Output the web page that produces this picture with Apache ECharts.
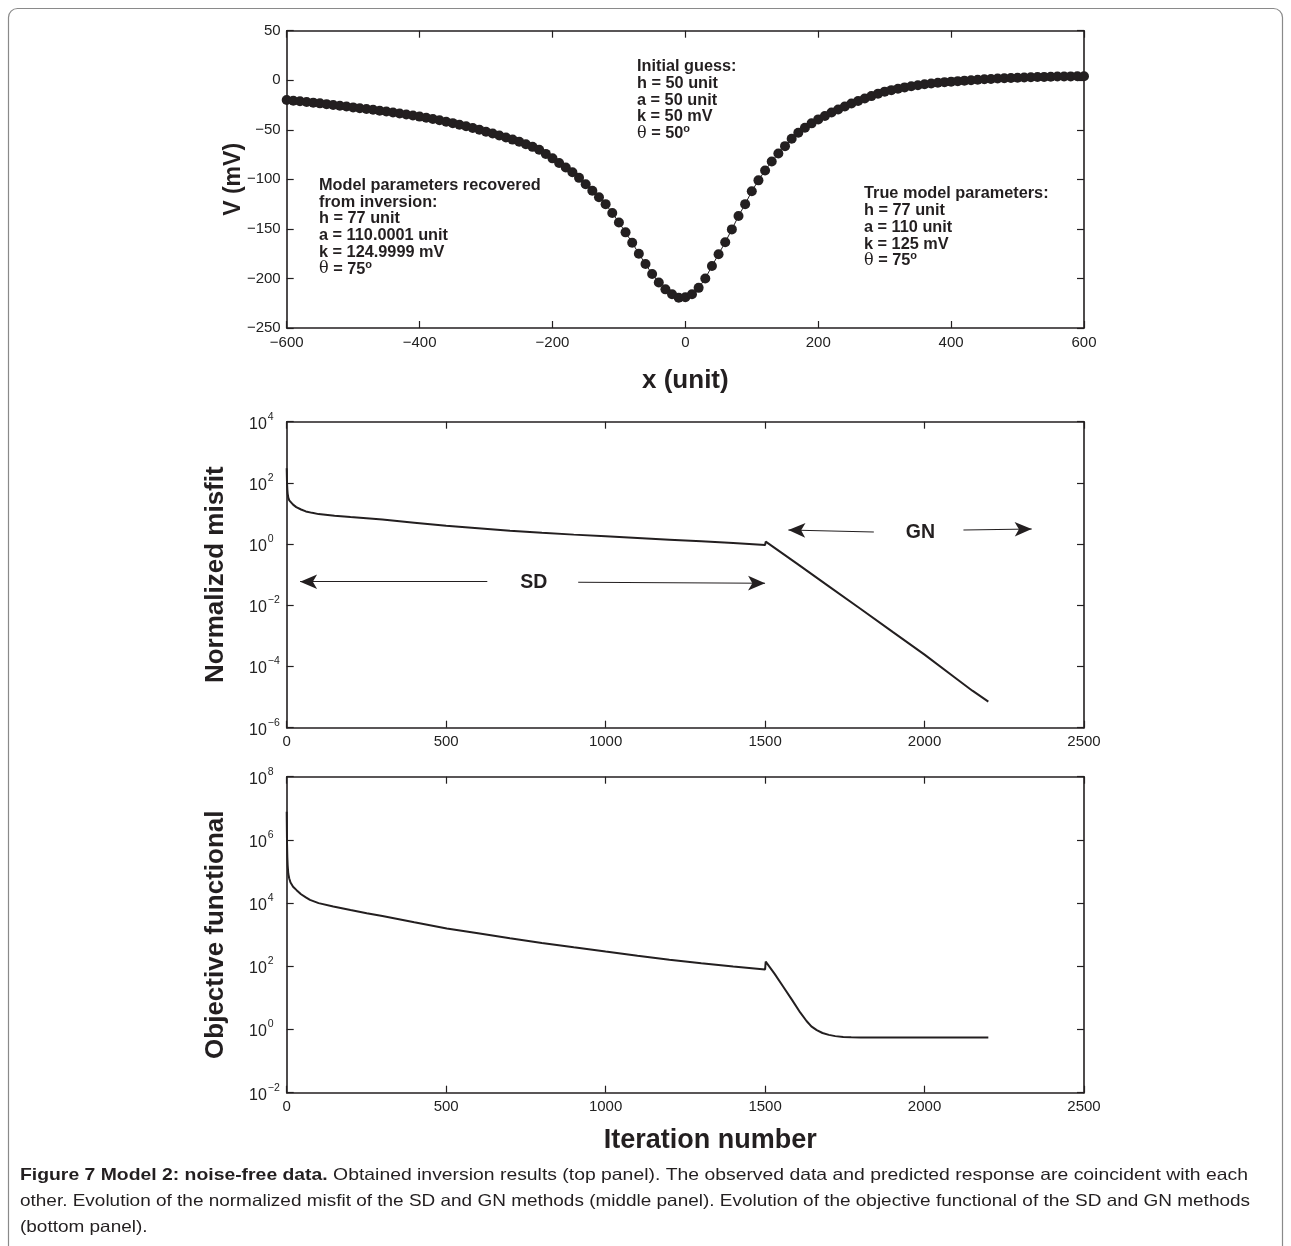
<!DOCTYPE html>
<html>
<head>
<meta charset="utf-8">
<script src="https://cdn.jsdelivr.net/npm/echarts@6/dist/echarts.min.js"></script>
<style>
html,body{margin:0;padding:0;background:#fff;}
#chart{width:1291px;height:1246px;}
</style>
</head>
<body>
<div id="chart"></div>
<script>
// ---------- DATA ----------
// Top panel: station positions (unit) and SP anomaly (mV)
const xStations = [-600,-590,-580,-570,-560,-550,-540,-530,-520,-510,-500,-490,-480,-470,-460,-450,-440,-430,-420,-410,
  -400,-390,-380,-370,-360,-350,-340,-330,-320,-310,-300,-290,-280,-270,-260,-250,-240,-230,-220,-210,
  -200,-190,-180,-170,-160,-150,-140,-130,-120,-110,-100,-90,-80,-70,-60,-50,-40,-30,-20,-10,
  0,10,20,30,40,50,60,70,80,90,100,110,120,130,140,150,160,170,180,190,
  200,210,220,230,240,250,260,270,280,290,300,310,320,330,340,350,360,370,380,390,
  400,410,420,430,440,450,460,470,480,490,500,510,520,530,540,550,560,570,580,590,600];
const vObserved = [-20.0,-20.6,-21.2,-21.9,-22.6,-23.3,-24.1,-24.9,-25.7,-26.5,-27.4,-28.2,-29.0,-29.8,-30.7,-31.6,-32.5,-33.5,-34.5,-35.6,
  -36.7,-37.9,-39.1,-40.4,-41.8,-43.3,-44.9,-46.5,-48.2,-50.0,-51.9,-53.8,-55.8,-57.8,-59.9,-62.1,-64.5,-67.2,-70.2,-74.3,
  -78.8,-83.5,-88.0,-92.8,-98.5,-105,-111.5,-118,-125,-134,-143.5,-153.5,-164,-175,-185.5,-195.5,-204,-211,-216,-219.5,
  -219,-216,-209.5,-200,-187.5,-175.5,-163.5,-150.5,-137,-125,-112,-101,-91,-82,-74,-66.5,-59,-53,-48,-43.5,
  -39.5,-36,-32.5,-29.5,-26.5,-23.5,-21,-18.5,-16,-13.5,-11.5,-10,-8.5,-7.2,-6,-5,-4,-3.2,-2.5,-1.9,
  -1.4,-0.9,-0.4,0,0.5,1,1.3,1.7,2.0,2.3,2.6,2.8,3.0,3.2,3.4,3.6,3.7,3.8,3.9,4.0,4.1];

// Middle panel: normalized misfit vs iteration (SD up to 1500, GN afterwards)
const misfitIter  = [0, 1, 2, 3, 5, 8, 12, 20, 30, 45, 60, 80, 100, 150, 200, 250, 300, 400, 500, 600, 700, 800, 900, 1000,
  1100, 1200, 1300, 1400, 1500, 1502, 1600, 1700, 1800, 1900, 2000, 2100, 2150, 2200];
const misfitValue = [302, 100, 60.3, 44.7, 33.1, 26.9, 23.4, 19.5, 16.2, 13.5, 11.7, 10.5, 9.55, 8.51, 7.67, 7.0, 6.31, 5.01, 3.98, 3.31, 2.75, 2.34, 2.04, 1.80,
  1.585, 1.40, 1.23, 1.084, 0.933, 1.2, 0.229, 0.0417, 0.00759, 0.00135, 0.000245, 0.0000400, 0.0000162, 0.00000708];

// Bottom panel: objective functional vs iteration
const objIter  = [0, 1, 2, 3, 5, 8, 12, 20, 31, 45, 60, 73, 100, 146, 200, 251, 300, 400, 502, 600, 700, 800, 900, 1000,
  1100, 1200, 1300, 1400, 1500, 1502, 1530, 1557, 1585, 1610, 1630, 1645, 1662, 1680, 1700, 1720, 1745, 1770, 1800, 2200];
const objValue = [7.76e6, 7.94e5, 2.82e5, 1.58e5, 8.51e4, 6.03e4, 4.47e4, 3.31e4, 2.57e4, 1.91e4, 1.51e4, 1.26e4, 1.0e4, 7.76e3, 6.03e3, 4.79e3, 3.89e3, 2.48e3, 1.58e3, 1.11e3, 776, 550, 398, 292,
  216, 162, 124, 97.7, 79.4, 140, 57.5, 22.6, 8.51, 3.47, 1.86, 1.26, 0.955, 0.776, 0.676, 0.617, 0.582, 0.566, 0.56, 0.56];

// Annotation arrows in the middle panel ([iteration, misfit] pairs: tail, head)
const sdArrowLeft  = [[629, 0.059], [42, 0.059]];
const sdArrowRight = [[914, 0.0565], [1500, 0.0524]];
const gnArrowLeft  = [[1841, 2.48], [1573, 2.89]];
const gnArrowRight = [[2122, 2.89], [2336, 3.11]];
const sdLabelAt = [775, 0.057];
const gnLabelAt = [1987, 2.37];

// Tick settings
const topXTicks = {min: -600, max: 600, interval: 200};
const topYTicks = {min: -250, max: 50, interval: 50};
const iterTicks = {min: 0, max: 2500, interval: 500};
const misfitTicks = {min: 1e-6, max: 1e4, interval: 2};
const objTicks = {min: 1e-2, max: 1e8, interval: 2};

// ---------- STYLE / LAYOUT ----------
const INK = '#231f20';
const LAB = '#222';
const G = [
  {left: 286.7, top: 30.7, width: 797.3, height: 297.3},
  {left: 286.7, top: 421.7, width: 797.3, height: 306},
  {left: 286.7, top: 776.7, width: 797.3, height: 316}
];
const minus = v => String(v).replace('-', '\u2212');
const plain = v => String(v);
const logFmt = v => { const e = Math.round(Math.log10(v)); return '{b|10}{e|' + (e < 0 ? '\u2212' + (-e) : e) + '}'; };
const logRich = {
  b: {fontSize: 16, fontFamily: 'Liberation Sans', color: LAB, lineHeight: 21, verticalAlign: 'bottom'},
  e: {fontSize: 10.5, fontFamily: 'Liberation Sans', color: LAB, lineHeight: 21, verticalAlign: 'top', padding: [0, 0, 0, 1]}
};
function baseAxis(extra) {
  return Object.assign({
    axisLine: {show: true, onZero: false, lineStyle: {color: INK, width: 1.6}},
    axisTick: {show: true, inside: true, length: 7, lineStyle: {color: INK, width: 1.2}},
    splitLine: {show: false},
    axisLabel: {show: false},
    nameMoveOverlap: false
  }, extra);
}
const nameStyle = {color: INK, fontFamily: 'Liberation Sans', fontWeight: 'bold'};
const tickLab = {show: true, margin: 7, color: LAB, fontSize: 15, fontFamily: 'Liberation Sans'};

const xAxes = [
  baseAxis(Object.assign({type: 'value', gridIndex: 0, position: 'bottom',
    axisLabel: Object.assign({formatter: minus}, tickLab),
    name: 'x (unit)', nameLocation: 'middle', nameGap: 40, nameTextStyle: Object.assign({fontSize: 26}, nameStyle)}, topXTicks)),
  baseAxis(Object.assign({type: 'value', gridIndex: 0, position: 'top'}, topXTicks)),
  baseAxis(Object.assign({type: 'value', gridIndex: 1, position: 'bottom',
    axisLabel: Object.assign({formatter: plain}, tickLab)}, iterTicks)),
  baseAxis(Object.assign({type: 'value', gridIndex: 1, position: 'top'}, iterTicks)),
  baseAxis(Object.assign({type: 'value', gridIndex: 2, position: 'bottom',
    axisLabel: Object.assign({formatter: plain}, tickLab),
    name: 'Iteration number', nameLocation: 'middle', nameGap: 34,
    nameTextStyle: Object.assign({fontSize: 27, padding: [0, 0, 0, 50]}, nameStyle)}, iterTicks)),
  baseAxis(Object.assign({type: 'value', gridIndex: 2, position: 'top'}, iterTicks))
];
const yAxes = [
  baseAxis(Object.assign({type: 'value', gridIndex: 0, position: 'left',
    axisLabel: Object.assign({formatter: minus}, tickLab, {margin: 6}),
    name: 'V (mV)', nameLocation: 'middle', nameRotate: 90, nameGap: 42, nameTextStyle: Object.assign({fontSize: 23}, nameStyle)}, topYTicks)),
  baseAxis(Object.assign({type: 'value', gridIndex: 0, position: 'right'}, topYTicks)),
  baseAxis(Object.assign({type: 'log', logBase: 10, gridIndex: 1, position: 'left',
    axisLabel: {show: true, margin: 37.7, align: 'left', formatter: logFmt, rich: logRich},
    name: 'Normalized misfit', nameLocation: 'middle', nameRotate: 90, nameGap: 58, nameTextStyle: Object.assign({fontSize: 26}, nameStyle)}, misfitTicks)),
  baseAxis(Object.assign({type: 'log', logBase: 10, gridIndex: 1, position: 'right'}, misfitTicks)),
  baseAxis(Object.assign({type: 'log', logBase: 10, gridIndex: 2, position: 'left',
    axisLabel: {show: true, margin: 37.7, align: 'left', formatter: logFmt, rich: logRich},
    name: 'Objective functional', nameLocation: 'middle', nameRotate: 90, nameGap: 58, nameTextStyle: Object.assign({fontSize: 26}, nameStyle)}, objTicks)),
  baseAxis(Object.assign({type: 'log', logBase: 10, gridIndex: 2, position: 'right'}, objTicks))
];

const zip = (a, b) => a.map((v, i) => [v, b[i]]);
const arrowPair = p => [{coord: p[0], symbol: 'none'}, {coord: p[1], symbol: 'arrow', symbolSize: [11, 17]}];

const chart = echarts.init(document.getElementById('chart'), null, {renderer: 'canvas'});

// ---------- Caption (condensed to the reference line width) ----------
const capFamily = 'Liberation Sans';
const capSize = 16.5;
const cap1b = 'Figure 7 Model 2: noise-free data.';
const cap1r = ' Obtained inversion results (top panel). The observed data and predicted response are coincident with each';
const cap2 = 'other. Evolution of the normalized misfit of the SD and GN methods (middle panel). Evolution of the objective functional of the SD and GN methods';
const cap3 = '(bottom panel).';
const mctx = document.createElement('canvas').getContext('2d');
mctx.font = capSize + 'px "' + capFamily + '"';
const w2 = mctx.measureText(cap2).width;
mctx.font = 'bold ' + capSize + 'px "' + capFamily + '"';
const w1b = mctx.measureText(cap1b).width;
mctx.font = capSize + 'px "' + capFamily + '"';
const w1r = mctx.measureText(cap1r).width;
const sx2 = 1230 / w2;
const sx1 = 1228 / (w1b + w1r);

function txt(x, y, rich, text, extra) {
  return Object.assign({type: 'text', x: x, y: y, style: {text: text, rich: rich, fill: INK, verticalAlign: 'middle', align: 'left'}}, extra || {});
}
const annFont = 'Liberation Sans';
const annRich = {
  b: {fontSize: 16.3, fontWeight: 'bold', fontFamily: annFont, fill: INK, lineHeight: 18, verticalAlign: 'bottom'},
  t: {fontSize: 16, fontWeight: 'normal', fontFamily: 'DejaVu Serif', fill: INK, lineHeight: 18, verticalAlign: 'bottom'},
  s: {fontSize: 11, fontWeight: 'bold', fontFamily: annFont, fill: INK, lineHeight: 18, verticalAlign: 'top'}
};
function annBlock(x, y0, lines) {
  return lines.map((l, i) => txt(x, y0 + i * 16.8, annRich, l));
}
const capRich = {
  cb: {fontSize: capSize, fontWeight: 'bold', fontFamily: capFamily, fill: '#231f20'},
  cr: {fontSize: capSize, fontFamily: capFamily, fill: '#231f20'}
};

const graphics = [
  {type: 'rect', shape: {x: 8.5, y: 8.5, width: 1274, height: 1400, r: 9}, style: {fill: 'none', stroke: '#8a8a8a', lineWidth: 1.2}, silent: true, z: 0},
  ...annBlock(637, 65.5, ['{b|Initial guess:}', '{b|h = 50 unit}', '{b|a = 50 unit}', '{b|k = 50 mV}', '{t|\u03b8}{b| = 50}{s|o}']),
  ...annBlock(319, 184.3, ['{b|Model parameters recovered}', '{b|from inversion:}', '{b|h = 77 unit}', '{b|a = 110.0001 unit}', '{b|k = 124.9999 mV}', '{t|\u03b8}{b| = 75}{s|o}']),
  ...annBlock(864, 192.7, ['{b|True model parameters:}', '{b|h = 77 unit}', '{b|a = 110 unit}', '{b|k = 125 mV}', '{t|\u03b8}{b| = 75}{s|o}']),
  txt(20, 1175, capRich, '{cb|' + cap1b + '}{cr|' + cap1r + '}', {scaleX: sx1}),
  txt(20, 1201, capRich, '{cr|' + cap2 + '}', {scaleX: sx2}),
  txt(20, 1227, capRich, '{cr|' + cap3 + '}', {scaleX: sx2})
];

const option = {
  animation: false,
  backgroundColor: '#fff',
  grid: G.map(g => Object.assign({containLabel: false, show: false}, g)),
  xAxis: xAxes,
  yAxis: yAxes,
  series: [
    {type: 'line', xAxisIndex: 0, yAxisIndex: 0, data: zip(xStations, vObserved),
      symbol: 'circle', symbolSize: 10, showSymbol: true, color: INK,
      itemStyle: {color: INK}, lineStyle: {color: INK, width: 1}},
    {type: 'line', xAxisIndex: 2, yAxisIndex: 2, data: zip(misfitIter, misfitValue),
      showSymbol: false, symbol: 'none', lineStyle: {color: INK, width: 2}, color: INK,
      markLine: {silent: true, animation: false, label: {show: false},
        lineStyle: {color: INK, width: 1.1, type: 'solid'},
        data: [arrowPair(sdArrowLeft), arrowPair(sdArrowRight), arrowPair(gnArrowLeft), arrowPair(gnArrowRight)]}},
    {type: 'line', xAxisIndex: 4, yAxisIndex: 4, data: zip(objIter, objValue),
      showSymbol: false, symbol: 'none', lineStyle: {color: INK, width: 2}, color: INK}
  ],
  graphic: graphics
};
chart.setOption(option);

// SD / GN labels placed at data coordinates of the middle panel
const pSD = chart.convertToPixel({xAxisIndex: 2, yAxisIndex: 2}, sdLabelAt);
const pGN = chart.convertToPixel({xAxisIndex: 2, yAxisIndex: 2}, gnLabelAt);
const lblStyle = {fontSize: 19.5, fontWeight: 'bold', fontFamily: 'Liberation Sans', fill: INK, align: 'center', verticalAlign: 'middle'};
chart.setOption({graphic: graphics.concat([
  {type: 'text', x: pSD[0], y: pSD[1], style: Object.assign({text: 'SD'}, lblStyle)},
  {type: 'text', x: pGN[0], y: pGN[1], style: Object.assign({text: 'GN'}, lblStyle)}
])}, {replaceMerge: ['graphic']});
</script>
</body>
</html>
